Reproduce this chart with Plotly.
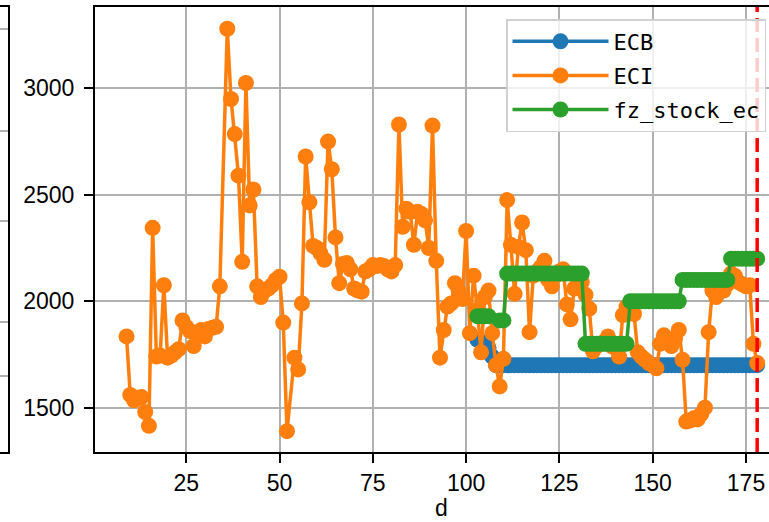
import plotly.graph_objects as go

# ---------------- data ----------------
eci_d = [9, 10, 11, 12, 13, 14, 15, 16, 17, 18, 19, 20, 21, 22, 23, 24, 25, 26, 27, 28,
         29, 30, 31, 32, 33, 34, 36, 37, 38, 39, 40, 41, 42, 43, 44, 45, 46, 47, 48, 49,
         50, 51, 52, 54, 55, 56, 57, 58, 59, 60, 61, 62, 63, 64, 65, 66, 67, 68, 69, 70,
         71, 72, 73, 74, 75, 76, 77, 78, 79, 80, 81, 82, 83, 84, 85, 86, 87, 88, 89, 90,
         91, 92, 93, 94, 95, 96, 97, 98, 99, 100, 101, 102, 103, 104, 105, 106, 107, 108, 109, 110,
         111, 112, 113, 114, 115, 116, 117, 118, 119, 120, 121, 122, 123, 124, 125, 126, 127, 128, 129, 130,
         131, 132, 133, 134, 135, 136, 137, 138, 139, 140, 141, 142, 143, 144, 145, 146, 147, 148, 149, 150,
         151, 152, 153, 154, 155, 156, 157, 158, 159, 160, 161, 162, 163, 164, 165, 166, 167, 168, 169, 170,
         171, 172, 173, 174, 175, 176, 177, 178]
eci_v = [1835, 1560, 1535, 1545, 1550, 1480, 1415, 2345, 1740, 1745, 2075, 1735, 1745, 1760, 1775, 1910, 1880, 1860, 1790, 1850,
         1865, 1835, 1870, 1875, 1880, 2070, 3280, 2950, 2785, 2590, 2185, 3025, 2450, 2525, 2070, 2020, 2050, 2060, 2075, 2100,
         2115, 1900, 1390, 1735, 1680, 1990, 2680, 2465, 2260, 2250, 2225, 2195, 2750, 2620, 2300, 2085, 2175, 2180, 2150, 2060,
         2050, 2045, 2140, 2150, 2170, 2165, 2170, 2165, 2150, 2140, 2170, 2830, 2350, 2435, 2420, 2265, 2420, 2410, 2380, 2250,
         2825, 2190, 1735, 1865, 1975, 1990, 2085, 2050, 2010, 2330, 1850, 2120, 1960, 1760, 2020, 2050, 1850, 1700, 1600, 1730,
         2475, 2265, 2035, 2255, 2370, 2240, 1855, 2120, 2140, 2160, 2190, 2100, 2070, 2120, 2140, 2150, 1985, 1915, 2060, 2120,
         2090, 2030, 1965, 1765, 1790, 1800, 1810, 1835, 1790, 1780, 1740, 1935, 1975, 1975, 1940, 1760, 1740, 1725, 1710, 1700,
         1685, 1800, 1840, 1820, 1790, 1825, 1865, 1725, 1435, 1440, 1450, 1445, 1470, 1500, 1855, 2050, 2020, 2045, 2050, 2080,
         2130, 2120, 2090, 2080, 2070, 2075, 1800, 1710]

ecb_d = list(range(103, 179))
ecb_v = [1820, 1810, 1800, 1780, 1740] + [1700] * 71

fz_d = [103, 104, 105, 106, 109, 110] + list(range(111, 179))
fz_v = ([1930, 1930, 1930, 1930, 1910, 1910]
        + [2130] * 21      # 111-131
        + [1800] * 12      # 132-143
        + [2000] * 14      # 144-157
        + [2100] * 13      # 158-170
        + [2200] * 8)      # 171-178

x_ticks = [25, 50, 75, 100, 125, 150, 175]
y_ticks = [1500, 2000, 2500, 3000]
left_grid = [0.951, 0.721, 0.519, 0.292, 0.171]
vline_x = fz_d[-1]
x_title = "d"

# ---------------- figure ----------------
W, H = 769, 522
tick_font = dict(family="Liberation Sans, Arial, sans-serif", size=23, color="black")
legend_font = dict(family="DejaVu Sans Mono, Liberation Mono, monospace", size=22, color="black")

fig = go.Figure()
series = [("ECB", ecb_d, ecb_v, "#1f77b4"),
          ("ECI", eci_d, eci_v, "#ff7f0e"),
          ("fz_stock_ec", fz_d, fz_v, "#2ca02c")]
for name, xs, ys, col in series:
    fig.add_trace(go.Scatter(x=xs, y=ys, name=name, legendgroup=name,
                             mode="lines+markers",
                             line=dict(color=col, width=3.5),
                             marker=dict(color=col, size=16)))

# partial neighbouring subplot at the far left edge
fig.add_trace(go.Scatter(x=[None], y=[None], xaxis="x2", yaxis="y2", showlegend=False,
                         hoverinfo="skip"))

fig.add_vline(x=vline_x, line=dict(color="red", width=3.5, dash="14px,6px"), layer="above")

# x-axis title (axis is cut off on the right, so centre it on the full axis width)
fig.add_annotation(text=x_title, xref="paper", yref="paper", x=441 / W, y=(452 - 508) / 445,
                   xanchor="center", yanchor="middle", showarrow=False, font=tick_font)

fig.update_layout(
    width=W, height=H,
    margin=dict(l=0, r=0, t=7, b=70),
    plot_bgcolor="white", paper_bgcolor="white",
    showlegend=True,
    legend=dict(x=506 / W, y=(452 - 19) / 445, xanchor="left", yanchor="top",
                bgcolor="rgba(255,255,255,0.8)", bordercolor="#d0d0d0", borderwidth=1.5,
                font=legend_font, itemwidth=96, tracegroupgap=2.5),
    xaxis=dict(domain=[95 / W, 1], range=[0.55, 181.17], tickvals=x_ticks,
               ticks="outside", ticklen=9, tickwidth=2, tickcolor="black",
               showline=True, linecolor="black", linewidth=2, mirror=True,
               showgrid=True, gridcolor="#b0b0b0", gridwidth=2, zeroline=False,
               tickfont=tick_font, ticklabelstandoff=0, automargin=False),
    yaxis=dict(range=[1292, 3382], tickvals=y_ticks,
               ticks="outside", ticklen=9, tickwidth=2, tickcolor="black",
               showline=True, linecolor="black", linewidth=2, mirror=False,
               showgrid=True, gridcolor="#b0b0b0", gridwidth=2, zeroline=False,
               tickfont=tick_font, ticklabelstandoff=5, automargin=False),
    xaxis2=dict(domain=[0, 8.3 / W], range=[0, 1], anchor="y2",
                showticklabels=False, ticks="", showgrid=False, zeroline=False,
                showline=True, linecolor="black", linewidth=2, mirror=True),
    yaxis2=dict(domain=[0, 1], range=[0, 1], anchor="x2", side="right",
                tickvals=left_grid, showticklabels=False, ticks="",
                showgrid=True, gridcolor="#b0b0b0", gridwidth=2, zeroline=False,
                showline=True, linecolor="black", linewidth=2),
)

fig.write_html("out.html", config={"displayModeBar": False},
               post_script="document.body.style.margin='0px';")
